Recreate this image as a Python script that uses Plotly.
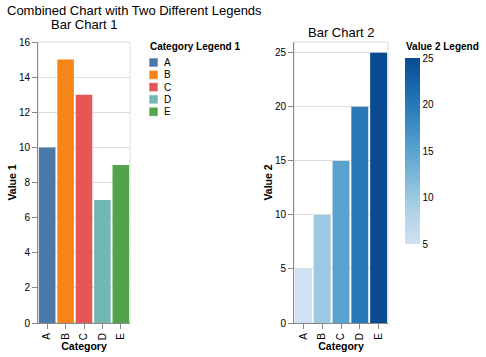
import plotly.graph_objects as go

categories = ["A", "B", "C", "D", "E"]
value1 = [10, 15, 13, 7, 9]
value2 = [5, 10, 15, 20, 25]
cat_colors = ["#4c78a8", "#f58518", "#e45756", "#72b7b2", "#54a24b"]
blues = ["#cfe1f2", "#bed8ec", "#a8cee5", "#8fc1de", "#74b2d7", "#5ba3cf",
         "#4592c6", "#3181bd", "#206fb2", "#125ca4", "#0a4a90"]
cb_ticks = [5, 10, 15, 20, 25]

W, H = 486, 357
FONT = "Liberation Sans, Arial, sans-serif"

def px(x):
    return x / W

def py(y):
    return 1 - y / H

fig = go.Figure()

fig.add_trace(go.Bar(
    x=categories, y=value1, marker=dict(color=cat_colors, line=dict(width=0)),
    xaxis="x", yaxis="y", showlegend=False, hoverinfo="x+y"))

fig.add_trace(go.Bar(
    x=categories, y=value2,
    marker=dict(color=value2, colorscale=[[i / (len(blues) - 1), c] for i, c in enumerate(blues)],
                cmin=min(value2), cmax=max(value2), line=dict(width=0),
                showscale=True,
                colorbar=dict(x=px(405), xanchor="left", y=py(58), yanchor="top",
                              len=186, lenmode="pixels", thickness=15,
                              thicknessmode="pixels", xpad=0, ypad=0,
                              outlinewidth=0, ticks="", tickvals=cb_ticks,
                              tickfont=dict(size=10, color="#000", family=FONT))),
    xaxis="x2", yaxis="y2", showlegend=False, hoverinfo="x+y"))

ydom = [py(323), py(42)]
common_x = dict(type="category", range=[-0.5, 4.5], tickangle=-90,
                ticks="outside", ticklen=5, tickcolor="#888", showline=True,
                linecolor="#888", linewidth=1, showgrid=False, automargin=False,
                tickfont=dict(size=10, color="#000", family=FONT),
                title=dict(text="<b>Category</b>", font=dict(size=10.5, color="#000", family=FONT), standoff=2))
common_y = dict(ticks="outside", ticklen=5, tickcolor="#888", showline=True,
                linecolor="#888", linewidth=1, showgrid=True, gridcolor="#ddd",
                zeroline=False, automargin=False,
                tickfont=dict(size=10, color="#000", family=FONT))

fig.update_layout(
    width=W, height=H, margin=dict(l=0, r=0, t=0, b=0, autoexpand=False),
    paper_bgcolor="white", plot_bgcolor="white",
    font=dict(family=FONT, color="#000"),
    bargap=0.1,
    xaxis=dict(domain=[px(38), px(130)], anchor="y", **common_x),
    yaxis=dict(domain=ydom, anchor="x", range=[0, 16], dtick=2,
               title=dict(text="<b>Value 1</b>", font=dict(size=10.5, color="#000", family=FONT), standoff=0),
               **common_y),
    xaxis2=dict(domain=[px(294), px(388)], anchor="y2", **common_x),
    yaxis2=dict(domain=ydom, anchor="x2", range=[0, 26], dtick=5,
                title=dict(text="<b>Value 2</b>", font=dict(size=10.5, color="#000", family=FONT), standoff=0),
                **common_y),
)

# plot frames
for xr, yr in [("x domain", "y domain"), ("x2 domain", "y2 domain")]:
    fig.add_shape(type="rect", xref=xr, yref=yr, x0=0, x1=1, y0=0, y1=1,
                  line=dict(color="#ddd", width=1), layer="below")

ann = []
ann.append(dict(text="Combined Chart with Two Different Legends", x=px(5), y=py(10),
                xanchor="left", yanchor="middle", font=dict(size=13, family=FONT)))
ann.append(dict(text="Bar Chart 1", x=px(84), y=py(25), xanchor="center",
                yanchor="middle", font=dict(size=13, family=FONT)))
ann.append(dict(text="Bar Chart 2", x=px(341), y=py(32), xanchor="center",
                yanchor="middle", font=dict(size=13, family=FONT)))
ann.append(dict(text="<b>Category Legend 1</b>", x=px(148), y=py(47), xanchor="left",
                yanchor="middle", font=dict(size=10, family=FONT)))
ann.append(dict(text="<b>Value 2 Legend</b>", x=px(404), y=py(47), xanchor="left",
                yanchor="middle", font=dict(size=10, family=FONT)))

# manual category legend
for i, (c, col) in enumerate(zip(categories, cat_colors)):
    cy = 62.5 + i * 12.3
    fig.add_shape(type="rect", xref="paper", yref="paper",
                  x0=px(149), x1=px(158), y0=py(cy - 4.5), y1=py(cy + 4.5),
                  fillcolor=col, line=dict(color="rgba(255,255,255,0.6)", width=1))
    ann.append(dict(text=c, x=px(162), y=py(cy), xanchor="left", yanchor="middle",
                    font=dict(size=10, family=FONT)))

for a in ann:
    a.update(xref="paper", yref="paper", showarrow=False)
fig.update_layout(annotations=ann)

fig.write_html("out.html", config={"displayModeBar": False},
               post_script="document.body.style.margin='0px';document.body.style.overflow='hidden';")
